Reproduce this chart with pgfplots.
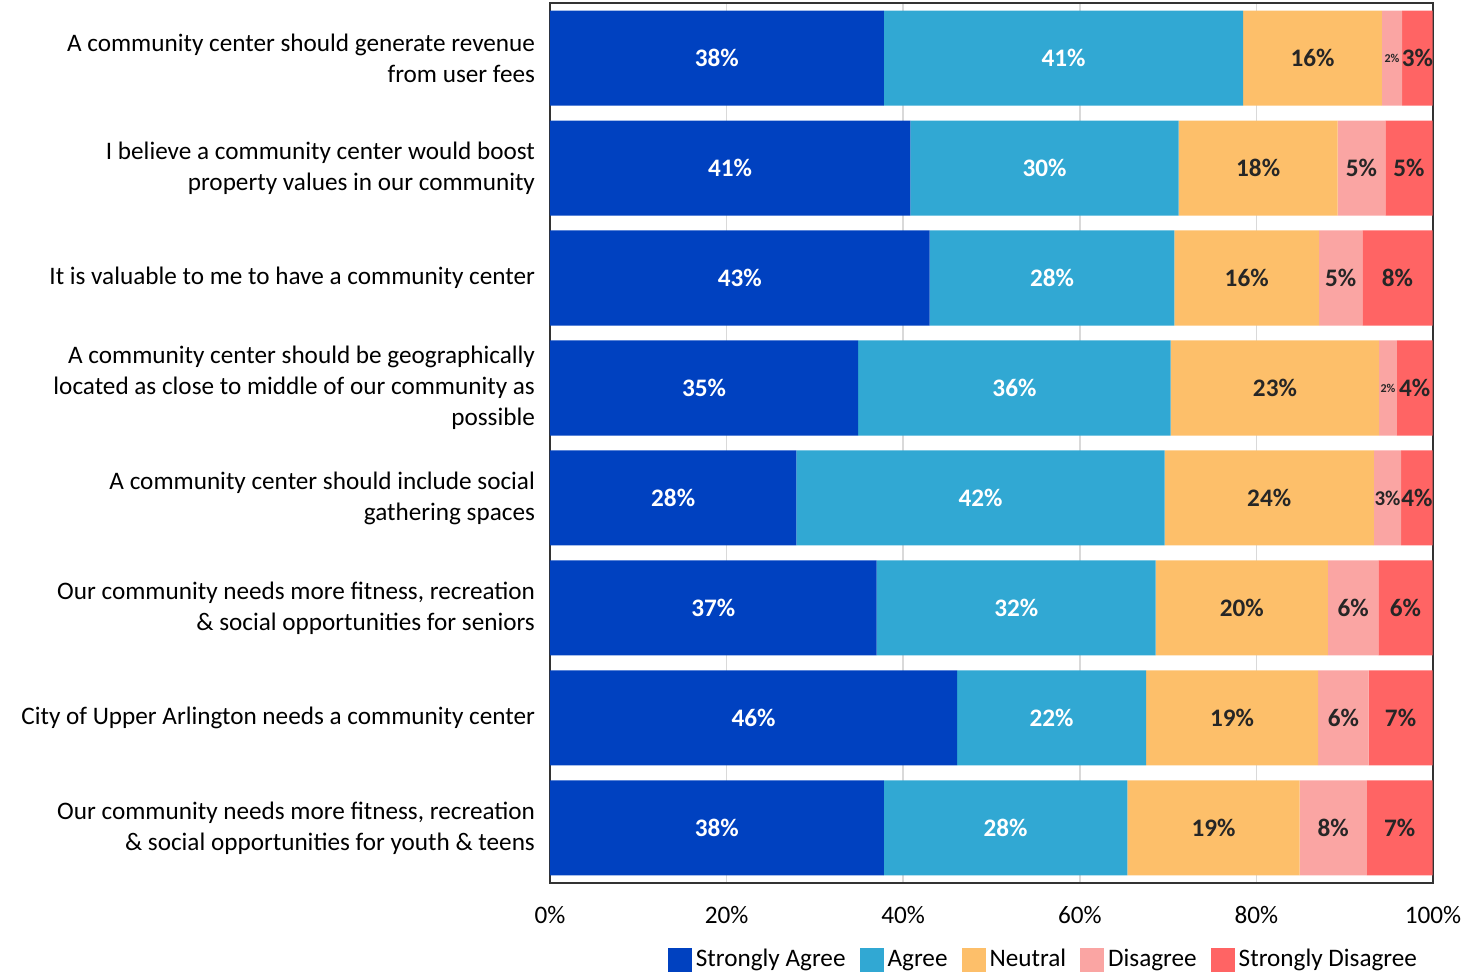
\documentclass[border=0pt]{standalone}
\usepackage{pgfplots}
\pgfplotsset{compat=1.18}
\usepackage{fontspec}
\setmainfont{Carlito}
\definecolor{sagree}{HTML}{0041C0}
\definecolor{agree}{HTML}{31A8D3}
\definecolor{neutral}{HTML}{FDBF6A}
\definecolor{disagree}{HTML}{FAA5A3}
\definecolor{sdisagree}{HTML}{FF6464}
\protected\def\pct#1{#1\%}
\protected\def\tinypct#1{{\fontsize{6}{7}\selectfont#1\%}}
\protected\def\smallpct#1{{\fontsize{10.5}{12}\selectfont#1\%}}
\begin{document}
\begin{tikzpicture}
\begin{axis}[
    name=ax,
    scale only axis,
    width=441.5pt, height=440pt,
    xbar stacked,
    bar width=47.5pt,
    xmin=0, xmax=100,
    ymin=-0.5, ymax=7.5,
    y dir=reverse,
    ytick={0,...,7},
    yticklabels={
        {A community center should generate revenue\\from user fees},
        {I believe a community center would boost\\property values in our community},
        {It is valuable to me to have a community center},
        {A community center should be geographically\\located as close to middle of our community as\\possible},
        {A community center should include social\\gathering spaces},
        {Our community needs more fitness, recreation\\\& social opportunities for seniors},
        {City of Upper Arlington needs a community center},
        {Our community needs more fitness, recreation\\\& social opportunities for youth \& teens}},
    yticklabel style={align=right, font=\fontsize{12.6}{15.5}\selectfont, xshift=-4pt},
    xtick={0,20,...,100},
    xticklabel={\pgfmathprintnumber{\tick}\%},
    xticklabel style={font=\fontsize{12.6}{14}\selectfont, yshift=-8pt},
    /pgf/number format/assume math mode=true,
    major tick length=0pt,
    xmajorgrids,
    grid style={black!15, line width=0.8pt},
    axis line style={black!80, line width=0.9pt},
    point meta=explicit symbolic,
    nodes near coords={\pgfplotspointmeta},
    every node near coord/.append style={anchor=center,
        font=\bfseries\fontsize{12.6}{14}\selectfont, inner sep=0pt},
    legend style={draw=none, at={(0.56,-0.066)}, anchor=north, legend columns=-1,
        font=\fontsize{12.6}{14}\selectfont,
        /tikz/every even column/.append style={column sep=5pt}},
    legend image code/.code={\path[#1,draw=none] (0pt,-6pt) rectangle (12pt,6pt);},
]
\addplot[fill=sagree, draw=none, every node near coord/.append style={text=white}]
coordinates {(37.8,0) [\pct{38}] (40.8,1) [\pct{41}] (43.0,2) [\pct{43}] (34.9,3) [\pct{35}]
             (27.9,4) [\pct{28}] (37.0,5) [\pct{37}] (46.1,6) [\pct{46}] (37.8,7) [\pct{38}]};
\addplot[fill=agree, draw=none, every node near coord/.append style={text=white}]
coordinates {(40.7,0) [\pct{41}] (30.4,1) [\pct{30}] (27.7,2) [\pct{28}] (35.4,3) [\pct{36}]
             (41.7,4) [\pct{42}] (31.6,5) [\pct{32}] (21.4,6) [\pct{22}] (27.6,7) [\pct{28}]};
\addplot[fill=neutral, draw=none, every node near coord/.append style={text=black!85}]
coordinates {(15.7,0) [\pct{16}] (18.0,1) [\pct{18}] (16.4,2) [\pct{16}] (23.6,3) [\pct{23}]
             (23.7,4) [\pct{24}] (19.5,5) [\pct{20}] (19.5,6) [\pct{19}] (19.5,7) [\pct{19}]};
\addplot[fill=disagree, draw=none, every node near coord/.append style={text=black!85}]
coordinates {(2.3,0) [\tinypct{2}] (5.4,1) [\pct{5}] (4.9,2) [\pct{5}] (2.0,3) [\tinypct{2}]
             (3.1,4) [\smallpct{3}] (5.7,5) [\pct{6}] (5.7,6) [\pct{6}] (7.6,7) [\pct{8}]};
\addplot[fill=sdisagree, draw=none, every node near coord/.append style={text=black!85}]
coordinates {(3.45,0) [\pct{3}] (5.35,1) [\pct{5}] (7.95,2) [\pct{8}] (4.05,3) [\pct{4}]
             (3.55,4) [\pct{4}] (6.15,5) [\pct{6}] (7.25,6) [\pct{7}] (7.45,7) [\pct{7}]};
\legend{Strongly Agree, Agree, Neutral, Disagree, Strongly Disagree}
\end{axis}
\path ([xshift=-275pt,yshift=-45pt]ax.south west) rectangle ([xshift=25pt,yshift=1.5pt]ax.north east);
\end{tikzpicture}
\end{document}
